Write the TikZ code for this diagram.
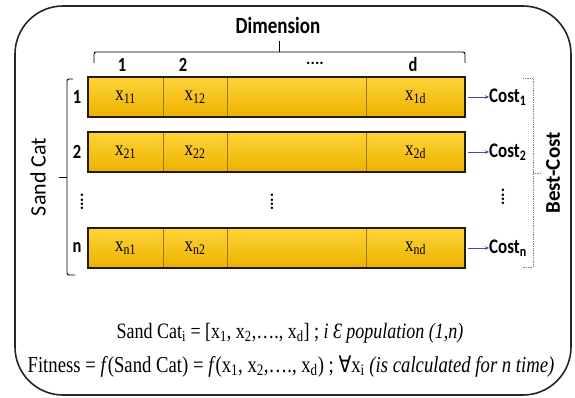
\documentclass[tikz,border=0pt]{standalone}
\usepackage{graphicx}
\usepackage{fontspec}
\setmainfont{Liberation Serif}
\newfontfamily\calib{Carlito}
\newfontfamily\dejavu{DejaVu Sans}
\usetikzlibrary{arrows.meta,positioning}
\definecolor{catgoldtop}{RGB}{253,212,56}
\definecolor{catgoldbot}{RGB}{238,178,0}
\definecolor{catedge}{RGB}{35,28,10}
\definecolor{catline}{RGB}{150,118,30}
\definecolor{costblue}{RGB}{60,80,150}
\newcommand{\tall}[1]{\scalebox{1}[1.22]{#1}}

\tikzset{
  cell/.style={draw=catline, line width=0.6pt, top color=catgoldtop, bottom color=catgoldbot,
    minimum height=40pt, inner sep=0pt, outer sep=0pt, font=\fontsize{17}{17}\selectfont},
  rowframe/.style={draw=catedge, line width=1.8pt},
  hdr/.style={font=\calib\bfseries\fontsize{16.5}{16.5}\selectfont, inner sep=0pt},
  costlbl/.style={font=\calib\bfseries\fontsize{17}{17}\selectfont, inner sep=0pt, anchor=west},
  costarr/.style={-{Stealth[length=4pt,width=3.5pt]}, costblue, line width=0.6pt},
  bracket/.style={line width=0.9pt, rounded corners=2pt},
  dotbracket/.style={densely dotted, gray, line width=0.8pt},
  eqn/.style={font=\fontsize{18}{18}\selectfont, inner sep=0pt, anchor=base},
}

\begin{document}
\begin{tikzpicture}[x=1pt, y=-1pt]
  \useasboundingbox (0,0) rectangle (575,398);
  %% outer frame
  \draw[line width=1.6pt, draw=black!85, rounded corners=48pt] (15,6) rectangle (571,395);

  %% dimension header
  \node[font=\calib\bfseries\fontsize{19}{19}\selectfont, inner sep=0pt] (dim) at (278,25) {\tall{Dimension}};
  \draw[bracket] (94,63) -- (94,52) -- (465,52) -- (465,63);
  \draw[bracket] (279,52) -- (279,41);
  \node[hdr] (h1) at (122,65) {\tall{1}};
  \node[hdr] (h2) at (183,65) {\tall{2}};
  \node[hdr] (hdots) at (315,63) {....};
  \node[hdr] (hd) at (413,65) {\tall{d}};

  %% population rows
  \foreach \r/\y/\s in {1/97/1, 2/152/2, n/248/n} {
    \node[cell, minimum width=75pt] (c\r1) at (125.5,\y) {\tall{x\textsubscript{\s1}}};
    \node[cell, minimum width=64pt] (c\r2) at (195,\y) {\tall{x\textsubscript{\s2}}};
    \node[cell, minimum width=139pt] (c\r3) at (296.5,\y) {};
    \node[cell, minimum width=99pt] (c\r4) at (415.5,\y) {\tall{x\textsubscript{\s d}}};
    \draw[rowframe] (c\r1.north west) rectangle (c\r4.south east);
    \node[hdr] (l\r) at (77,\y) {\tall{\s}};
    \node[costlbl] (k\r) at (489,\y) {\tall{Cost\textsubscript{\s}}};
    \draw[costarr] ([xshift=3pt]c\r4.east) -- (k\r.west);
  }
  \node[hdr, rotate=90] (v1) at (82,202) {....};
  \node[hdr, rotate=90] (v2) at (272,202) {....};
  \node[hdr, rotate=90] (v3) at (503,197) {....};

  %% Sand Cat brace (left)
  \draw[bracket] (73,79) -- (67,79) -- (67,275) -- (75,275);
  \draw[bracket] (67,177) -- (59,177);
  \node[font=\calib\fontsize{22}{22}\selectfont, rotate=90, inner sep=0pt] (sc) at (38,177) {Sand Cat};

  %% Best-Cost bracket (right)
  \draw[dotbracket] (523,78) -- (533,78) -- (533,267) -- (523,267);
  \draw[dotbracket] (533,173) -- (541,173);
  \node[font=\calib\bfseries\fontsize{21}{21}\selectfont, rotate=90, inner sep=0pt] (bc) at (553,173) {Best-Cost};

  %% equations
  \node[eqn] (eq1) at (290,338) {\tall{Sand Cat\textsubscript{i} = [x\textsubscript{1}, x\textsubscript{2},…., x\textsubscript{d}] ; \textit{i Ɛ population (1,n)}}};
  \node[eqn, font=\fontsize{18.7}{18.7}\selectfont] (eq2) at (291,372) {\tall{Fitness = \textit{f}(Sand Cat) = \textit{f}(x\textsubscript{1}, x\textsubscript{2},…., x\textsubscript{d}) ; {\dejavu ∀}x\textsubscript{i} \textit{(is calculated for n time)}}};
\end{tikzpicture}
\end{document}
